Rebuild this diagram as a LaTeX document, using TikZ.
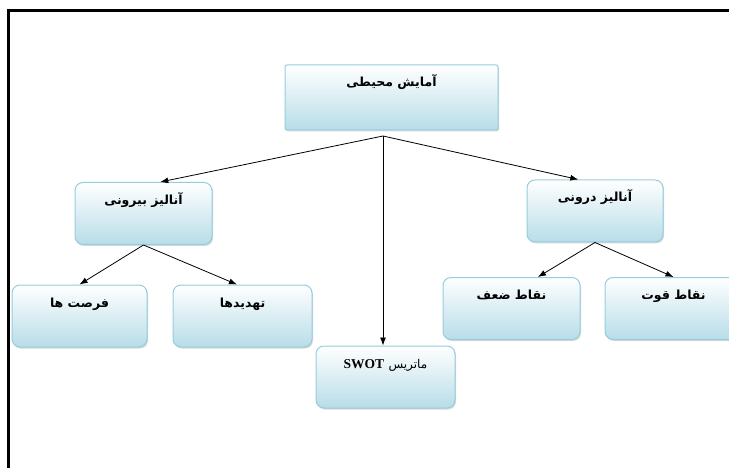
\documentclass[tikz,border=0pt]{standalone}
\usepackage{fontspec}
\usetikzlibrary{arrows.meta,shadows}
\newfontfamily\arabicfont[Script=Arabic]{DejaVu Sans}
\newfontfamily\swotfont{Liberation Serif}
\TeXXeTstate=1
\definecolor{boxblue}{RGB}{183,221,232}
\definecolor{boxline}{RGB}{150,205,222}

\begin{document}
\begin{tikzpicture}[x=1pt, y=-1pt,
        box/.style = {draw=boxline, line width=1pt, rounded corners=8pt, top color=white, bottom color=boxblue,
                      minimum width=137pt, inner xsep=0pt, inner ysep=0pt, text height=22pt, text depth=40pt,
                      font=\arabicfont\bfseries\fontsize{12.5}{14}\selectfont,
                      drop shadow={shadow xshift=1pt, shadow yshift=-1.5pt, opacity=.3}},
        arr/.style = {-{Latex[length=8pt,width=6pt]}, line width=.8pt}]
        \path[fill=white, use as bounding box] (0,0) rectangle (729,468);
        \draw[line width=3pt] (729,11) -- (8,11) -- (8,468);

        \node[box, minimum width=213pt, rounded corners=2pt, text depth=43pt] (root) at (391.5,97.5) {\beginR آمایش محیطی\endR};
        \node[box] (ext) at (143.5,213.5) {\beginR آنالیز بیرونی\endR};
        \node[box, minimum width=136pt] (intl) at (595,211) {\beginR آنالیز درونی\endR};
        \node[box, minimum width=135pt] (opp) at (79.5,316) {\beginR فرصت ها\endR};
        \node[box, minimum width=139pt] (thr) at (242.5,316) {\beginR تهدیدها\endR};
        \node[box, minimum width=139pt] (swot) at (385.5,377) {\beginR{\mdseries\fontsize{12}{14}\selectfont ماتریس} \beginL{\swotfont\fontsize{13.5}{15}\selectfont SWOT}\endL\endR};
        \node[box] (weak) at (511.5,308.5) {\beginR نقاط ضعف\endR};
        \node[box] (strg) at (673.5,308.5) {\beginR نقاط قوت\endR};

        \coordinate (fork) at (383,136);
        \draw[arr] (fork) -- (ext.62);
        \draw[arr] (fork) -- (intl.118);
        \draw[arr] (fork) -- (fork |- swot.north);
        \draw[arr] (ext.south) -- (opp.north);
        \draw[arr] (ext.south) -- (thr.100);
        \draw[arr] (intl.south) -- (weak.50);
        \draw[arr] (intl.south) -- (strg.north);
\end{tikzpicture}
\end{document}
